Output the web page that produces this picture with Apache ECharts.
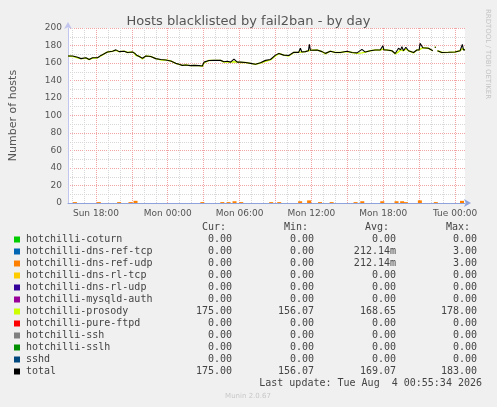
<!DOCTYPE html>
<html>
<head>
<meta charset="utf-8">
<title>Hosts blacklisted by fail2ban - by day</title>
<script src="https://cdn.jsdelivr.net/npm/echarts@6/dist/echarts.min.js"></script>
<style>
  html, body { margin: 0; padding: 0; background: #f0f0f0; }
  #chart { width: 497px; height: 407px; }
</style>
</head>
<body>
<div id="chart"></div>
<script>
// time is in hours counted from Sun 00:00
var times = [15.67, 16.06, 16.47, 16.75, 17.17, 17.44, 17.72, 18.14, 18.42, 18.69, 18.97, 19.39, 19.67, 19.94,
  20.36, 20.64, 21.06, 21.25, 21.33, 21.45, 21.61, 21.89, 22.17, 22.58, 23.0, 23.42, 23.83, 24.25, 24.67, 24.94,
  25.22, 25.5, 25.92, 26.19, 26.61, 26.89, 27.03, 27.44, 27.86, 28.42, 28.69, 28.97, 29.25, 29.53, 29.81, 30.08,
  30.5, 30.92, 31.33, 31.75, 32.17, 32.58, 33.0, 33.28, 33.69, 34.11, 34.53, 34.94, 35.08, 35.2, 35.5, 35.75,
  35.83, 35.92, 36.06, 36.47, 36.89, 37.17, 37.58, 38.0, 38.42, 38.97, 39.39, 39.81, 40.22, 40.5, 40.92, 41.33,
  41.75, 41.9, 41.97, 42.05, 42.31, 42.72, 43.0, 43.28, 43.45, 43.56, 43.69, 43.89, 44.11, 44.53, 44.81, 45.0,
  45.08, 45.31, 45.78, 46.14, 46.22, 46.3, 46.4, 46.47, 46.53, 46.89, 47.44, 48.0, 48.42, 48.55, 48.61, 48.7, 48.83]

var total = [168, 168, 166.5, 165, 166, 164, 166, 166, 168.7, 170.5, 172.6, 173.5, 175, 173,
  173.5, 172, 172.5, 171, 173, 168.5, 168.5, 165.5, 168, 167.5, 165, 164, 163.5, 162.3, 159.6, 158.5,
  157.3, 157.7, 157, 157.3, 157, 156.5, 161, 162.9, 163, 163, 161.5, 162, 161, 164.5, 161, 161,
  160.5, 159.6, 158.5, 160.4, 163, 164, 169, 170.9, 169, 168.5, 172.2, 172.2, 176.8, 172.5, 173, 174,
  181.3, 174.5, 174, 174.9, 173, 171, 173.5, 172, 172, 173.4, 172, 171.6, 175.6, 172.5, 174, 174.9,
  174.9, 175, 179.8, 175, 174.9, 174, 170.9, 176.8, 175, 178.7, 174, 178, 174, 172, 174.9, 175,
  182.5, 177.5, 176.8, 174, null, 178, 178, null, 174, 172, 172.2, 172.6, 174, 174.5, 181.3, 175, 175]

var prosody = [168, 167.5, 166, 165, 165.5, 164, 165.5, 166, 168, 170.5, 172.6, 173.5, 174.5, 173,
  173.5, 172, 172.5, 171, 168.5, 168.5, 168, 164.5, 168, 167.5, 165, 163.5, 163.5, 162.3, 159.6, 158.5,
  157.3, 157.7, 157, 157.3, 157, 156.1, 160, 162.9, 163, 163, 161, 161.5, 161, 161.5, 161, 160.5,
  160.5, 159.6, 158.5, 160, 162, 163.5, 168, 170.9, 169, 168, 172, 172.2, 172.8, 172.5, 173, 174,
  175.3, 174.5, 174, 174.9, 173, 170.5, 173.5, 172, 172, 173, 172, 171, 171.6, 172.5, 174, 174.9,
  174.9, 175, 175.8, 175, 174.9, 174, 170.5, 172.8, 175, 174.7, 174, 176, 174, 171.5, 174.9, 175,
  176.5, 177.5, 176.8, 174, null, 178, 178, null, 174, 172, 172.2, 172.6, 174, 174.5, 176.3, 175, 175]

// hotchilli-dns-ref-udp (and -tcp, same values)
var udpTimes = [16.25, 18.25, 19.94, 20.89, 21.31, 26.89, 28.56, 29.08, 29.58, 30.14, 32.64, 33.31, 35.06,
  35.81, 36.72, 37.69, 39.69, 40.25, 41.92, 43.11, 43.58, 43.89, 45.06, 46.39, 48.58]
var udpValues = [1, 1, 1, 1, 2.5, 1, 1, 1, 2, 1, 1, 1, 2, 3, 1, 1, 1, 2, 2, 2, 2, 1, 3, 1, 2.5]

var xLabelTicks = [18, 24, 30, 36, 42, 48]
var xLabelNames = ['Sun 18:00', 'Mon 00:00', 'Mon 06:00', 'Mon 12:00', 'Mon 18:00', 'Tue 00:00']
var xMajorGrid = [18, 21, 24, 27, 30, 33, 36, 39, 42, 45, 48]
var xMinorGrid = [16, 17, 19, 20, 22, 23, 25, 26, 28, 29, 31, 32, 34, 35, 37, 38, 40, 41, 43, 44, 46, 47]

// legend table
var legendNames = ['hotchilli-coturn', 'hotchilli-dns-ref-tcp', 'hotchilli-dns-ref-udp', 'hotchilli-dns-rl-tcp',
  'hotchilli-dns-rl-udp', 'hotchilli-mysqld-auth', 'hotchilli-prosody', 'hotchilli-pure-ftpd', 'hotchilli-ssh',
  'hotchilli-sslh', 'sshd', 'total']
var legendColors = ['#00cc00', '#0066b3', '#ff8000', '#ffcc00', '#330099', '#990099', '#ccff00', '#ff0000',
  '#808080', '#008f00', '#00487d', '#000000']
var curValues = ['0.00', '0.00', '0.00', '0.00', '0.00', '0.00', '175.00', '0.00', '0.00', '0.00', '0.00', '175.00']
var minValues = ['0.00', '0.00', '0.00', '0.00', '0.00', '0.00', '156.07', '0.00', '0.00', '0.00', '0.00', '156.07']
var avgValues = ['0.00', '212.14m', '212.14m', '0.00', '0.00', '0.00', '168.65', '0.00', '0.00', '0.00', '0.00', '169.07']
var maxValues = ['0.00', '3.00', '3.00', '0.00', '0.00', '0.00', '178.00', '0.00', '0.00', '0.00', '0.00', '183.00']

var chart = echarts.init(document.getElementById('chart'))

function pairs(xs, ys) {
  return xs.map(function (x, i) { return [x, ys[i]] })
}

function buildGraphic() {
  var mono = 'DejaVu Sans Mono'
  var els = []
  var headers = [['Cur:', 226], ['Min:', 308], ['Avg:', 389], ['Max:', 470]]
  headers.forEach(function (h) {
    els.push({ type: 'text', x: h[1], y: 227, style: { text: h[0], font: '10px ' + mono, fill: '#444', align: 'right', verticalAlign: 'middle' } })
  })
  legendNames.forEach(function (name, i) {
    var y = 239.5 + i * 12
    els.push({ type: 'rect', shape: { x: 14, y: y - 3, width: 6, height: 6 }, style: { fill: legendColors[i] } })
    els.push({ type: 'text', x: 26, y: y, style: { text: name, font: '10px ' + mono, fill: '#444', verticalAlign: 'middle' } })
    var cols = [[curValues, 232], [minValues, 314], [avgValues, 396], [maxValues, 477]]
    cols.forEach(function (c) {
      els.push({ type: 'text', x: c[1], y: y, style: { text: c[0][i], font: '10px ' + mono, fill: '#444', align: 'right', verticalAlign: 'middle' } })
    })
  })
  els.push({ type: 'text', x: 482, y: 383.5, style: { text: 'Last update: Tue Aug  4 00:55:34 2026', font: '10px ' + mono, fill: '#444', align: 'right', verticalAlign: 'middle' } })
  els.push({ type: 'text', x: 248, y: 396, style: { text: 'Munin 2.0.67', font: '7px DejaVu Sans', fill: '#c8c8c8', align: 'center', verticalAlign: 'middle' } })
  els.push({ type: 'text', x: 488, y: 54, rotation: -Math.PI / 2, style: { text: 'RRDTOOL / TOBI OETIKER', font: '7px DejaVu Sans', fill: '#c4c4c4', align: 'center', verticalAlign: 'middle' } })
  return els
}

var option = {
  animation: false,
  backgroundColor: '#f0f0f0',
  textStyle: { fontFamily: 'DejaVu Sans' },
  title: {
    text: 'Hosts blacklisted by fail2ban - by day',
    left: 'center',
    top: 10,
    textStyle: { fontSize: 13, fontWeight: 'normal', color: '#555' }
  },
  grid: {
    left: 67, right: 32, top: 28, bottom: 204,
    show: true, backgroundColor: '#ffffff', borderWidth: 0
  },
  xAxis: [
    {
      type: 'value',
      min: 15.67,
      max: 48.83,
      axisLine: { show: true, lineStyle: { color: '#8ea3dc', width: 1 }, symbol: ['none', 'arrow'], symbolSize: [6, 7], symbolOffset: [0, 6] },
      axisTick: { show: false, customValues: xMajorGrid },
      axisLabel: {
        customValues: xLabelTicks,
        fontSize: 9,
        color: '#555',
        margin: 6,
        formatter: function (v) { return xLabelNames[xLabelTicks.indexOf(v)] }
      },
      splitLine: { show: true, lineStyle: { color: '#f2a4a4', type: [1, 1], width: 1 } }
    },
    {
      type: 'value',
      position: 'top',
      min: 15.67,
      max: 48.83,
      axisLine: { show: false },
      axisTick: { show: false, customValues: xMinorGrid },
      axisLabel: { show: false },
      splitLine: { show: true, lineStyle: { color: '#d8d8d8', type: [1, 1], width: 1 } }
    }
  ],
  yAxis: {
    type: 'value',
    min: 0,
    max: 200,
    interval: 20,
    name: 'Number of hosts',
    nameLocation: 'middle',
    nameGap: 49,
    nameTextStyle: { fontSize: 11, color: '#555' },
    axisLine: { show: true, lineStyle: { color: '#c2c6ee', width: 1 }, symbol: ['none', 'arrow'], symbolSize: [6, 7], symbolOffset: [0, 6] },
    axisTick: { show: false },
    axisLabel: { fontSize: 9, color: '#555', margin: 6 },
    splitLine: { show: true, lineStyle: { color: '#f2a4a4', type: [1, 1], width: 1 } },
    minorTick: { show: false, splitNumber: 2 },
    minorSplitLine: { show: true, lineStyle: { color: '#d8d8d8', type: [1, 1], width: 1 } }
  },
  graphic: buildGraphic(),
  series: [
    {
      name: 'hotchilli-dns-ref-udp',
      type: 'bar',
      xAxisIndex: 0,
      barWidth: 4,
      itemStyle: { color: '#ff8000' },
      data: pairs(udpTimes, udpValues),
      z: 3
    },
    {
      name: 'hotchilli-prosody',
      type: 'line',
      xAxisIndex: 0,
      showSymbol: false,
      connectNulls: false,
      lineStyle: { color: '#ccff00', width: 1.4 },
      data: pairs(times, prosody),
      z: 4
    },
    {
      name: 'total',
      type: 'line',
      xAxisIndex: 0,
      showSymbol: false,
      connectNulls: false,
      lineStyle: { color: '#000000', width: 1.1 },
      data: pairs(times, total),
      z: 5
    }
  ]
}

chart.setOption(option)
</script>
</body>
</html>
